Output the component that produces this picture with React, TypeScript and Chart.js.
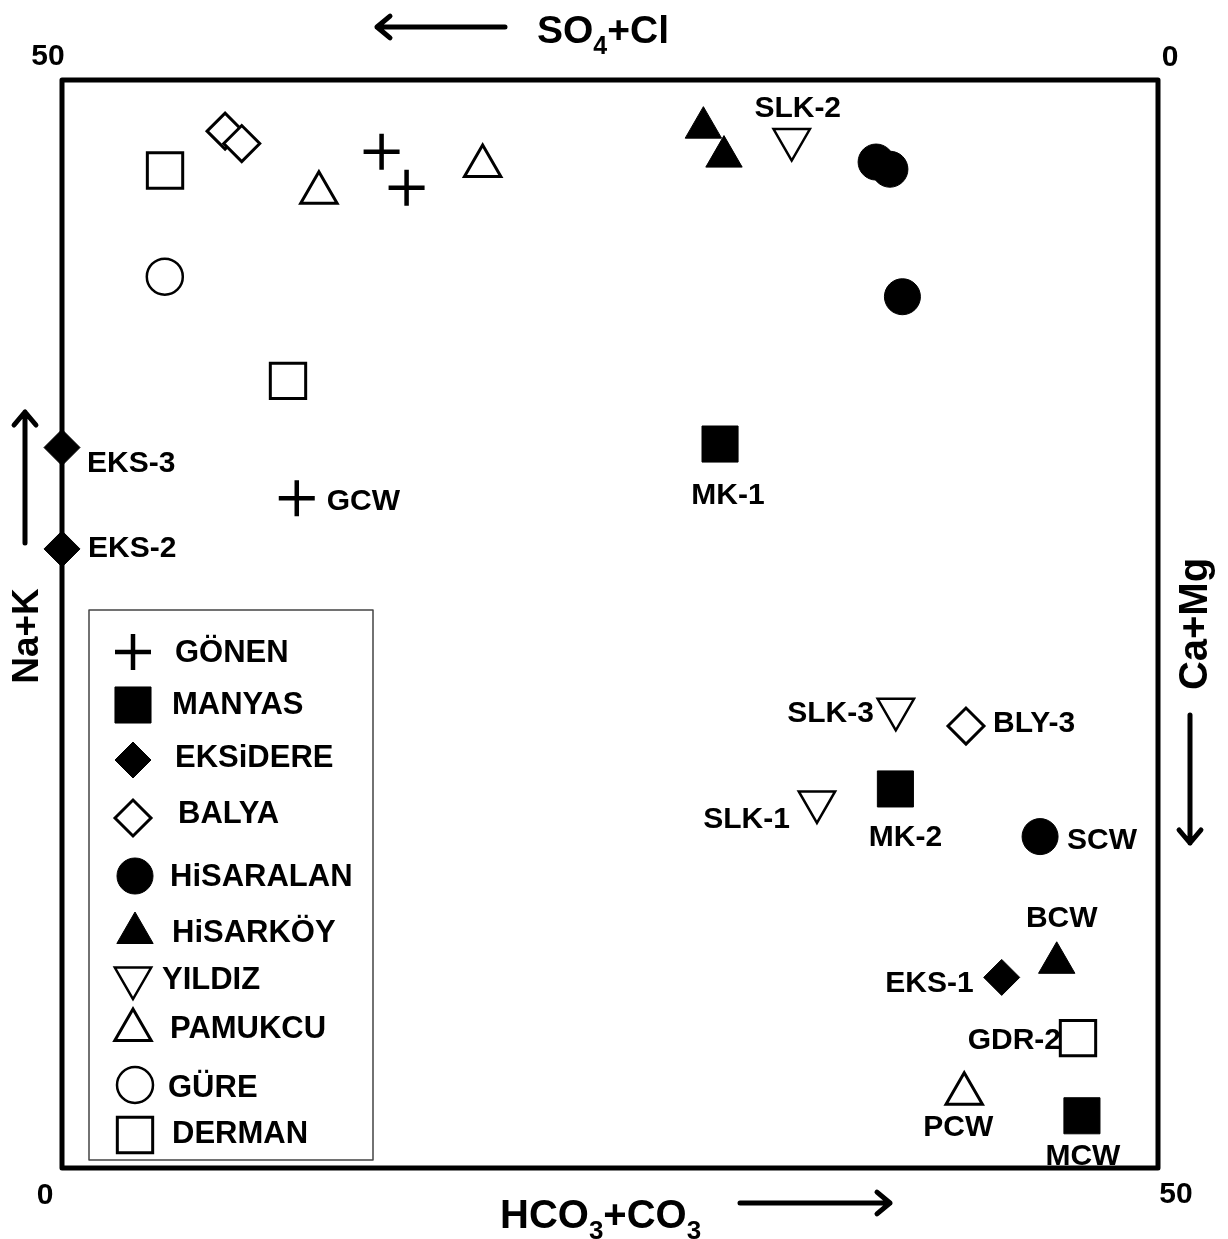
import React, { useEffect, useRef } from 'react';
import { Chart, registerables } from 'chart.js';
import { drawPoint } from 'chart.js/helpers';

Chart.register(...registerables);

// Water groups shown in the legend
const groups = ['GÖNEN', 'MANYAS', 'EKSiDERE', 'BALYA', 'HiSARALAN', 'HiSARKÖY', 'YILDIZ', 'PAMUKCU', 'GÜRE', 'DERMAN'];

// x: HCO3+CO3 (%), y: Na+K (%) for each sample
const gonenX = [14.58, 15.72, 10.71];
const gonenY = [46.7, 45.05, 30.78];
const gonenNames = ['', '', 'GCW'];

const manyasX = [30.02, 38.02, 46.53];
const manyasY = [33.27, 17.42, 2.4];
const manyasNames = ['MK-1', 'MK-2', 'MCW'];

const eksidereX = [0, 0, 42.87];
const eksidereY = [33.11, 28.45, 8.76];
const eksidereNames = ['EKS-3', 'EKS-2', 'EKS-1'];

const balyaX = [7.44, 8.2, 41.24];
const balyaY = [47.65, 47.08, 20.31];
const balyaNames = ['', '', 'BLY-3'];

const hisaralanX = [37.14, 37.77, 38.34, 44.62];
const hisaralanY = [46.23, 45.9, 40.04, 15.23];
const hisaralanNames = ['', '', '', 'SCW'];

const hisarkoyX = [29.26, 30.2, 45.38];
const hisarkoyY = [47.81, 46.48, 9.43];
const hisarkoyNames = ['', '', 'BCW'];

const yildizX = [33.29, 38.04, 34.44];
const yildizY = [47.26, 21.08, 16.82];
const yildizNames = ['SLK-2', 'SLK-3', 'SLK-1'];

const pamukcuX = [11.72, 19.19, 41.16];
const pamukcuY = [44.82, 46.05, 3.41];
const pamukcuNames = ['', '', 'PCW'];

const gureX = [4.69];
const gureY = [40.96];
const gureNames = [''];

const dermanX = [4.7, 10.31, 46.35];
const dermanY = [45.84, 36.17, 5.97];
const dermanNames = ['', '', 'GDR-2'];

// Axis range and corner tick labels
const axisMin = 0;
const axisMax = 50;
const cornerTicks = ['50', '0', '0', '50'];

// Where each sample label sits relative to its marker
const labelPlacement: Record<string, { dx: number; dy: number; align: CanvasTextAlign }> = {
  GCW: { dx: 30, dy: 4, align: 'left' },
  'MK-1': { dx: 8, dy: 52, align: 'center' },
  'MK-2': { dx: 10, dy: 49, align: 'center' },
  MCW: { dx: 1, dy: 41, align: 'center' },
  'EKS-3': { dx: 25, dy: 16, align: 'left' },
  'EKS-2': { dx: 26, dy: 0, align: 'left' },
  'EKS-1': { dx: -28, dy: 6, align: 'right' },
  'BLY-3': { dx: 27, dy: -2, align: 'left' },
  SCW: { dx: 27, dy: 4, align: 'left' },
  BCW: { dx: 5, dy: -44, align: 'center' },
  'SLK-2': { dx: 6, dy: -31, align: 'center' },
  'SLK-3': { dx: -22, dy: 4, align: 'right' },
  'SLK-1': { dx: -27, dy: 18, align: 'right' },
  PCW: { dx: -6, dy: 34, align: 'center' },
  'GDR-2': { dx: -17, dy: 3, align: 'right' },
};

type Style = { pointStyle: string; rotation: number; radius: number; filled: boolean; width: number };
const markerStyles: Style[] = [
  { pointStyle: 'cross', rotation: 0, radius: 18, filled: true, width: 4.5 },
  { pointStyle: 'rect', rotation: 0, radius: 25.5, filled: true, width: 1 },
  { pointStyle: 'rectRot', rotation: 0, radius: 18, filled: true, width: 1 },
  { pointStyle: 'rectRot', rotation: 0, radius: 18, filled: false, width: 3 },
  { pointStyle: 'circle', rotation: 0, radius: 18, filled: true, width: 1 },
  { pointStyle: 'triangle', rotation: 0, radius: 21, filled: true, width: 1 },
  { pointStyle: 'triangle', rotation: 180, radius: 21, filled: false, width: 2.5 },
  { pointStyle: 'triangle', rotation: 0, radius: 21, filled: false, width: 3 },
  { pointStyle: 'circle', rotation: 0, radius: 18, filled: false, width: 2.5 },
  { pointStyle: 'rect', rotation: 0, radius: 25, filled: false, width: 3 },
];

// Legend rows: symbol centre, text start
const legendRows = [
  { sy: 652, sx: 133, tx: 175, ty: 653 },
  { sy: 705, sx: 133, tx: 172, ty: 705 },
  { sy: 760, sx: 133, tx: 175, ty: 758 },
  { sy: 818, sx: 133, tx: 178, ty: 814 },
  { sy: 876, sx: 135, tx: 170, ty: 877 },
  { sy: 933, sx: 135, tx: 172, ty: 933 },
  { sy: 978, sx: 133, tx: 162, ty: 980 },
  { sy: 1030, sx: 133, tx: 170, ty: 1029 },
  { sy: 1085, sx: 135, tx: 168, ty: 1088 },
  { sy: 1135, sx: 135, tx: 172, ty: 1134 },
];

const seriesX = [gonenX, manyasX, eksidereX, balyaX, hisaralanX, hisarkoyX, yildizX, pamukcuX, gureX, dermanX];
const seriesY = [gonenY, manyasY, eksidereY, balyaY, hisaralanY, hisarkoyY, yildizY, pamukcuY, gureY, dermanY];
const seriesNames = [gonenNames, manyasNames, eksidereNames, balyaNames, hisaralanNames, hisarkoyNames, yildizNames, pamukcuNames, gureNames, dermanNames];

const FONT = '"Liberation Sans", Arial, Helvetica, sans-serif';

function arrow(ctx: CanvasRenderingContext2D, x1: number, y1: number, x2: number, y2: number) {
  const ang = Math.atan2(y2 - y1, x2 - x1);
  const head = 17;
  ctx.save();
  ctx.strokeStyle = '#000';
  ctx.lineWidth = 5;
  ctx.lineCap = 'round';
  ctx.lineJoin = 'round';
  ctx.beginPath();
  ctx.moveTo(x1, y1);
  ctx.lineTo(x2, y2);
  ctx.moveTo(x2 - head * Math.cos(ang - 0.7), y2 - head * Math.sin(ang - 0.7));
  ctx.lineTo(x2, y2);
  ctx.lineTo(x2 - head * Math.cos(ang + 0.7), y2 - head * Math.sin(ang + 0.7));
  ctx.stroke();
  ctx.restore();
}

// Draws text with subscripted parts, e.g. [['HCO',false],['3',true]]
function formula(ctx: CanvasRenderingContext2D, parts: [string, boolean][], x: number, y: number, size: number) {
  let cx = x;
  for (const [t, sub] of parts) {
    ctx.font = `bold ${sub ? Math.round(size * 0.64) : size}px ${FONT}`;
    ctx.fillText(t, cx, sub ? y + size * 0.28 : y);
    cx += ctx.measureText(t).width;
  }
}

const piperPlugin = {
  id: 'piperDecor',
  beforeDraw(chart: any) {
    const ctx = chart.ctx as CanvasRenderingContext2D;
    ctx.save();
    ctx.fillStyle = '#fff';
    ctx.fillRect(0, 0, chart.width, chart.height);
    ctx.restore();
  },
  beforeDatasetsDraw(chart: any) {
    const ctx = chart.ctx as CanvasRenderingContext2D;
    const a = chart.chartArea;
    ctx.save();
    ctx.strokeStyle = '#000';
    ctx.lineWidth = 5;
    ctx.lineJoin = 'round';
    ctx.strokeRect(a.left, a.top, a.right - a.left, a.bottom - a.top);

    // legend box
    ctx.lineWidth = 1.5;
    ctx.strokeStyle = '#444';
    ctx.strokeRect(89, 610, 284, 550);
    ctx.restore();
  },
  afterDatasetsDraw(chart: any) {
    const ctx = chart.ctx as CanvasRenderingContext2D;
    const a = chart.chartArea;
    ctx.save();
    ctx.fillStyle = '#000';
    ctx.textBaseline = 'middle';

    // sample labels
    ctx.font = `bold 30px ${FONT}`;
    chart.data.datasets.forEach((ds: any, i: number) => {
      const meta = chart.getDatasetMeta(i);
      seriesNames[i].forEach((name, j) => {
        if (!name) return;
        const p = labelPlacement[name];
        const el = meta.data[j];
        ctx.textAlign = p.align;
        ctx.fillText(name, el.x + p.dx, el.y + p.dy);
      });
    });

    // corner ticks
    ctx.font = `bold 30px ${FONT}`;
    ctx.textAlign = 'center';
    ctx.fillText(cornerTicks[0], a.left - 14, a.top - 23);
    ctx.fillText(cornerTicks[1], a.right + 12, a.top - 22);
    ctx.fillText(cornerTicks[2], a.left - 17, a.bottom + 28);
    ctx.fillText(cornerTicks[3], a.right + 18, a.bottom + 27);

    // legend
    ctx.textAlign = 'left';
    groups.forEach((g, i) => {
      const st = markerStyles[i];
      const r = legendRows[i];
      ctx.fillStyle = st.filled ? '#000' : '#fff';
      ctx.strokeStyle = '#000';
      ctx.lineWidth = st.width;
      drawPoint(ctx, { pointStyle: st.pointStyle as any, rotation: st.rotation, radius: st.radius, borderWidth: st.width }, r.sx, r.sy);
      ctx.fillStyle = '#000';
      ctx.font = `bold 31px ${FONT}`;
      ctx.fillText(g, r.tx, r.ty);
    });

    // axis titles
    ctx.textBaseline = 'alphabetic';
    formula(ctx, [['SO', false], ['4', true], ['+Cl', false]], 537, 43, 39);
    formula(ctx, [['HCO', false], ['3', true], ['+CO', false], ['3', true]], 500, 1228, 40);

    ctx.textAlign = 'center';
    ctx.textBaseline = 'middle';
    ctx.save();
    ctx.font = `bold 37px ${FONT}`;
    ctx.translate(28, 636);
    ctx.rotate(-Math.PI / 2);
    ctx.fillText('Na+K', 0, 0);
    ctx.restore();
    ctx.save();
    ctx.font = `bold 40px ${FONT}`;
    ctx.translate(1196, 624);
    ctx.rotate(-Math.PI / 2);
    ctx.fillText('Ca+Mg', 0, 0);
    ctx.restore();

    arrow(ctx, 505, 27, 377, 27);
    arrow(ctx, 740, 1203, 890, 1203);
    arrow(ctx, 25, 543, 25, 412);
    arrow(ctx, 1190, 715, 1190, 843);
    ctx.restore();
  },
};

export default function App() {
  const canvasRef = useRef<HTMLCanvasElement | null>(null);

  useEffect(() => {
    if (!canvasRef.current) return;
    const datasets = groups.map((g, i) => {
      const st = markerStyles[i];
      return {
        label: g,
        data: seriesX[i].map((x, j) => ({ x, y: seriesY[i][j] })),
        pointStyle: st.pointStyle as any,
        rotation: st.rotation,
        pointRadius: st.radius,
        pointHoverRadius: st.radius,
        backgroundColor: st.filled ? '#000' : '#fff',
        borderColor: '#000',
        borderWidth: st.width,
        clip: false as any,
      };
    });
    const chart = new Chart(canvasRef.current, {
      type: 'scatter',
      data: { datasets },
      options: {
        animation: false,
        responsive: false,
        devicePixelRatio: 1,
        events: [],
        layout: { padding: { left: 62, right: 70, top: 80, bottom: 71 } },
        plugins: { legend: { display: false }, tooltip: { enabled: false } },
        scales: {
          x: { type: 'linear', min: axisMin, max: axisMax, display: false },
          y: { type: 'linear', min: axisMin, max: axisMax, display: false },
        },
      },
      plugins: [piperPlugin],
    });
    return () => chart.destroy();
  }, []);

  return (
    <div style={{ position: 'absolute', left: 0, top: 0, width: 1228, height: 1239, background: '#fff' }}>
      <canvas ref={canvasRef} width={1228} height={1239} />
    </div>
  );
}
